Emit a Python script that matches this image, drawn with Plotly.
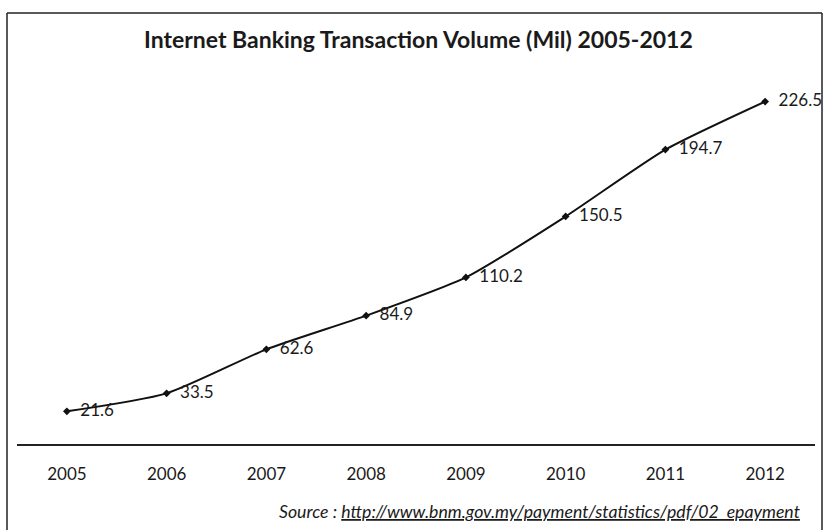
import plotly.graph_objects as go

years = ["2005", "2006", "2007", "2008", "2009", "2010", "2011", "2012"]
volume = [21.6, 33.5, 62.6, 84.9, 110.2, 150.5, 194.7, 226.5]
labels = ["21.6", "33.5", "62.6", "84.9", "110.2", "150.5", "194.7", "226.5"]

title_text = "<b>Internet Banking Transaction Volume (Mil) 2005-2012</b>"
source_text = "<i>Source : <u>http://www.bnm.gov.my/payment/statistics/pdf/02_epayment</u></i>"

FONT = "Lato, Open Sans, sans-serif"

fig = go.Figure()
fig.add_trace(go.Scatter(
    x=years, y=volume, mode="lines+markers+text",
    text=["\u00a0\u00a0" + t for t in labels], textposition="middle right",
    textfont=dict(family=FONT, size=17, color="#1a1a1a"),
    line=dict(color="#111111", width=2, shape="spline", smoothing=0.6),
    marker=dict(symbol="diamond", size=6, color="#111111"),
    cliponaxis=False, showlegend=False,
))

L, R, T, B = 17, 9, 66, 86
W, H = 824, 530
pw, ph = W - L - R, H - T - B

def px(x):
    return (x - L) / pw

def py(y):
    return (H - B - y) / ph

fig.update_layout(
    width=W, height=H,
    margin=dict(l=L, r=R, t=T, b=B),
    paper_bgcolor="white", plot_bgcolor="white",
    xaxis=dict(type="category", range=[-0.5, len(years) - 0.5], showgrid=False, zeroline=False,
               showline=True, linecolor="#222222", linewidth=1.5,
               ticks="", ticklabelstandoff=14,
               tickfont=dict(family=FONT, size=17, color="#1a1a1a")),
    yaxis=dict(range=[0, 250], visible=False, showgrid=False, zeroline=False),
    annotations=[
        dict(text=title_text, x=px(418), y=py(39), xref="paper", yref="paper",
             xanchor="center", yanchor="middle", showarrow=False,
             font=dict(family=FONT, size=23, color="#1a1a1a")),
        dict(text=source_text, x=px(802), y=py(511), xref="paper", yref="paper",
             xanchor="right", yanchor="middle", showarrow=False,
             font=dict(family=FONT, size=17.7, color="#1a1a1a")),
    ],
    shapes=[
        dict(type="line", xref="paper", yref="paper", x0=px(7), x1=px(822), y0=py(13), y1=py(13),
             line=dict(color="#222222", width=1.5)),
        dict(type="line", xref="paper", yref="paper", x0=px(7), x1=px(7), y0=py(13), y1=py(530),
             line=dict(color="#222222", width=1.5)),
        dict(type="line", xref="paper", yref="paper", x0=px(822), x1=px(822), y0=py(13), y1=py(530),
             line=dict(color="#222222", width=1.5)),
    ],
)

fig.write_html("out.html")
